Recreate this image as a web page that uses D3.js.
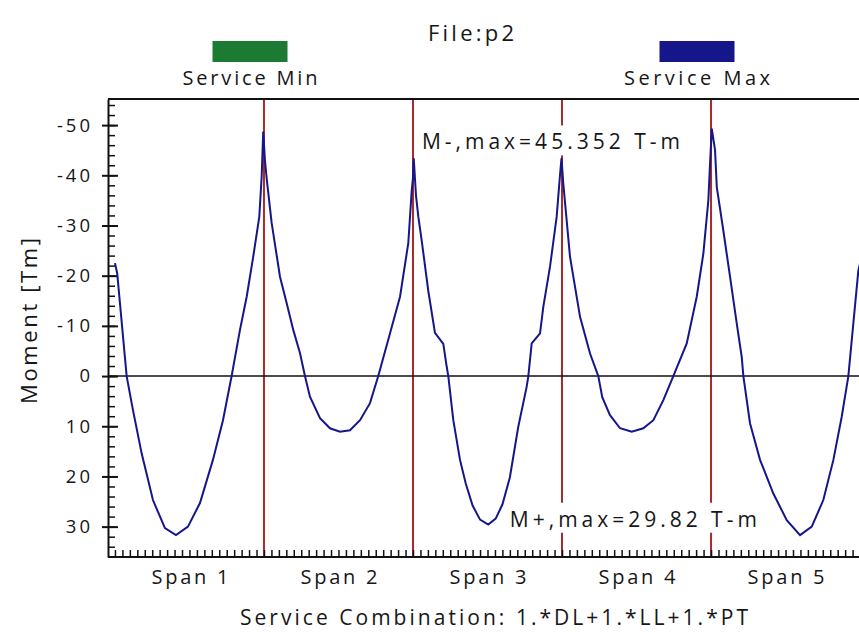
<!DOCTYPE html>
<html>
<head>
<meta charset="utf-8">
<script src="https://cdn.jsdelivr.net/npm/d3@7"></script>
<style>
  body { margin: 0; background: #fff; }
  svg text { font-family: "Open Sans", sans-serif; fill: #161616; }
</style>
</head>
<body>
<div class="grafico"></div>
<script>
// posicion a lo largo de la viga (m) y momento de servicio (T-m), negativo arriba
var posicion = [0, 0.3, 1.57, 2.42, 3.58, 5.1, 6.71, 8.19, 9.8, 11.41, 13.15, 14.5, 15.66, 16.78, 17.68, 18.56, 19.37, 19.69, 19.9,
  20.13, 20.36, 21.03, 22.15, 23.05, 23.93, 24.83, 25.5, 26.17, 27.52, 28.86, 30.2, 31.54, 32.89, 34.23, 35.34, 36.91, 38.26, 39.37, 39.83, 40.0, 40.1,
  40.4, 40.72, 41.17, 42.05, 42.95, 44.07, 44.52, 44.74, 45.41, 46.31, 47.1, 48.0, 49.0, 50.1, 51.1, 52.0, 53.0, 54.13, 55.26, 55.48, 55.93, 57.05, 57.49, 58.39, 59.28, 59.73, 59.93,
  60.17, 61.07, 62.42, 63.76, 64.87, 65.4, 66.44, 67.79, 69.36, 70.91, 72.26, 73.6, 74.94, 76.74, 78.08, 78.97, 79.64, 79.87, 80.1,
  80.54, 80.77, 81.65, 82.55, 83.45, 84.12, 84.34, 85.23, 86.58, 88.36, 90.16, 91.95, 93.52, 95.07, 96.42, 97.54, 98.43, 99.1, 99.77, 100];
var momento = [-22.5, -20.5, 0, 6.8, 15.4, 24.7, 30.3, 31.7, 30, 25.3, 16.7, 8.8, 0, -9.2, -15.8, -23.8, -31.7, -39.7, -48.7,
  -43, -39.4, -30.5, -19.8, -14.5, -9.2, -4.6, 0, 4.1, 8.4, 10.4, 11.1, 10.8, 8.8, 5.4, 0, -8.5, -15.8, -26.5, -37, -39.5, -43.4,
  -36, -31.7, -27, -17, -8.6, -6.4, -1.9, 0, 8.8, 16.7, 21.5, 25.8, 28.6, 29.6, 28.4, 25.6, 20.2, 10.1, 2.1, 0, -6.5, -8.5, -13.8, -21.8, -31.7, -40, -43.4,
  -38.4, -23.8, -11.8, -4.5, 0, 4.2, 7.8, 10.4, 11.1, 10.4, 8.8, 4.8, 0, -6.5, -15.8, -24.4, -35, -42.4, -49.3,
  -45, -37.7, -29, -19.8, -10.5, -3.8, 0, 9.4, 16.7, 23.4, 28.7, 31.7, 30, 24.7, 16.7, 8.1, 0, -10.5, -21, -22.5];

var apoyos = [20, 40, 60, 80];
var tramos = ["Span 1", "Span 2", "Span 3", "Span 4", "Span 5"];
var centrosTramo = [10, 30, 50, 70, 90];
var ticksY = [-50, -40, -30, -20, -10, 0, 10, 20, 30];
var leyenda = ["Service Min", "Service Max"];
var coloresLeyenda = ["#1d7a33", "#15168a"];
var notas = ["M-,max=45.352 T-m", "M+,max=29.82 T-m"];
var notasValor = [-45.352, 29.82];
var notasPos = [41.2, 53.0];

var ancho = 859;
var alto = 632;
var izq = 108, arriba = 99, abajo = 557, der = 867;

var contenedor = d3.select('.grafico')
  .append('svg')
  .attr('width', ancho)
  .attr('height', alto);

var xScale = d3.scaleLinear().domain([-1, 101]).range([107.5, 867.5]);
var yScale = d3.scaleLinear().domain([-55.2, 36.05]).range([arriba, abajo]);

// lineas de apoyo
contenedor.selectAll('line.apoyo')
  .data(apoyos)
  .enter()
  .append('line')
  .attr('class', 'apoyo')
  .attr('x1', function (d) { return xScale(d); })
  .attr('x2', function (d) { return xScale(d); })
  .attr('y1', arriba)
  .attr('y2', abajo)
  .attr('stroke', '#a82a2a')
  .attr('stroke-width', 2);

// linea de cero
contenedor.append('line')
  .attr('x1', izq).attr('x2', der)
  .attr('y1', yScale(0)).attr('y2', yScale(0))
  .attr('stroke', '#111').attr('stroke-width', 1.6);

// marco superior
contenedor.append('line')
  .attr('x1', izq).attr('x2', der)
  .attr('y1', arriba).attr('y2', arriba)
  .attr('stroke', '#111').attr('stroke-width', 2);

// eje Y
contenedor.append('g')
  .attr('transform', 'translate(' + izq + ',0)')
  .call(d3.axisLeft(yScale).tickValues(ticksY).tickSize(6).tickSizeOuter(0).tickPadding(9)
    .tickFormat(function (d) { return String(d); }))
  .call(function (g) {
    g.select('.domain').attr('stroke', '#111').attr('stroke-width', 2);
    g.selectAll('.tick line').attr('stroke', '#111').attr('stroke-width', 2);
    g.selectAll('.tick text').attr('font-size', 18.5).attr('letter-spacing', 3)
      .attr('font-family', '"Open Sans", sans-serif').attr('fill', '#161616');
  });

contenedor.append('g')
  .attr('transform', 'translate(' + izq + ',0)')
  .call(d3.axisRight(yScale).tickValues(ticksY).tickSize(10).tickFormat(''))
  .call(function (g) {
    g.select('.domain').remove();
    g.selectAll('.tick line').attr('stroke', '#111').attr('stroke-width', 2);
  });

contenedor.append('g')
  .attr('transform', 'translate(' + izq + ',0)')
  .call(d3.axisRight(yScale).tickValues(d3.range(-54, 37, 2)).tickSize(7).tickFormat(''))
  .call(function (g) {
    g.select('.domain').remove();
    g.selectAll('.tick line').attr('stroke', '#111').attr('stroke-width', 1.5);
  });

// eje X
contenedor.append('g')
  .attr('transform', 'translate(0,' + abajo + ')')
  .call(d3.axisTop(xScale).tickValues(d3.range(0, 101, 1)).tickSize(7).tickSizeOuter(0).tickFormat(''))
  .call(function (g) {
    g.select('.domain').attr('d', 'M' + izq + ',0H' + der).attr('stroke', '#111').attr('stroke-width', 2);
    g.selectAll('.tick line').attr('stroke', '#111').attr('stroke-width', 1.5);
  });

contenedor.append('g')
  .attr('transform', 'translate(0,' + abajo + ')')
  .call(d3.axisBottom(xScale).tickValues(centrosTramo).tickSize(0).tickPadding(13)
    .tickFormat(function (d, i) { return tramos[i]; }))
  .call(function (g) {
    g.select('.domain').remove();
    g.selectAll('.tick text').attr('font-size', 20)
      .attr('textLength', 77).attr('lengthAdjust', 'spacing')
      .attr('font-family', '"Open Sans", sans-serif').attr('fill', '#161616');
  });

// curva de momento
var puntos = posicion.map(function (p, i) { return [p, momento[i]]; });
var linea = d3.line()
  .x(function (d) { return xScale(d[0]); })
  .y(function (d) { return yScale(d[1]); });

contenedor.append('path')
  .datum(puntos)
  .attr('d', linea)
  .attr('fill', 'none')
  .attr('stroke', coloresLeyenda[1])
  .attr('stroke-width', 2)
  .attr('stroke-linejoin', 'miter');

// notas con fondo blanco
var anchoNotas = [258, 247];
notas.forEach(function (t, i) {
  var g = contenedor.append('g');
  var txt = g.append('text')
    .attr('x', xScale(notasPos[i]))
    .attr('y', yScale(notasValor[i]) + 1)
    .attr('font-size', 21)
    .attr('textLength', anchoNotas[i])
    .attr('lengthAdjust', 'spacing')
    .text(t);
  var caja = txt.node().getBBox();
  g.insert('rect', 'text')
    .attr('x', caja.x - 3).attr('y', caja.y - 2)
    .attr('width', caja.width + 6).attr('height', caja.height + 2)
    .attr('fill', '#fff');
});

// titulo
contenedor.append('text')
  .attr('x', 471).attr('y', 41)
  .attr('text-anchor', 'middle')
  .attr('font-size', 22)
  .attr('textLength', 86)
  .attr('lengthAdjust', 'spacing')
  .text('File:p2');

// leyenda
var leyX = [250, 697];
var anchoLey = [135, 146];
leyenda.forEach(function (t, i) {
  contenedor.append('rect')
    .attr('x', leyX[i] - 37.5).attr('y', 41)
    .attr('width', 75).attr('height', 21)
    .attr('fill', coloresLeyenda[i]);
  contenedor.append('text')
    .attr('x', leyX[i]).attr('y', 85)
    .attr('text-anchor', 'middle')
    .attr('font-size', 20)
    .attr('textLength', anchoLey[i])
    .attr('lengthAdjust', 'spacing')
    .text(t);
});

// titulos de ejes
contenedor.append('text')
  .attr('x', 494).attr('y', 625)
  .attr('text-anchor', 'middle')
  .attr('font-size', 21)
  .attr('textLength', 508)
  .attr('lengthAdjust', 'spacing')
  .text('Service Combination: 1.*DL+1.*LL+1.*PT');

contenedor.append('text')
  .attr('transform', 'translate(37,321) rotate(-90)')
  .attr('text-anchor', 'middle')
  .attr('font-size', 22)
  .attr('textLength', 166)
  .attr('lengthAdjust', 'spacing')
  .text('Moment [Tm]');
</script>
</body>
</html>
